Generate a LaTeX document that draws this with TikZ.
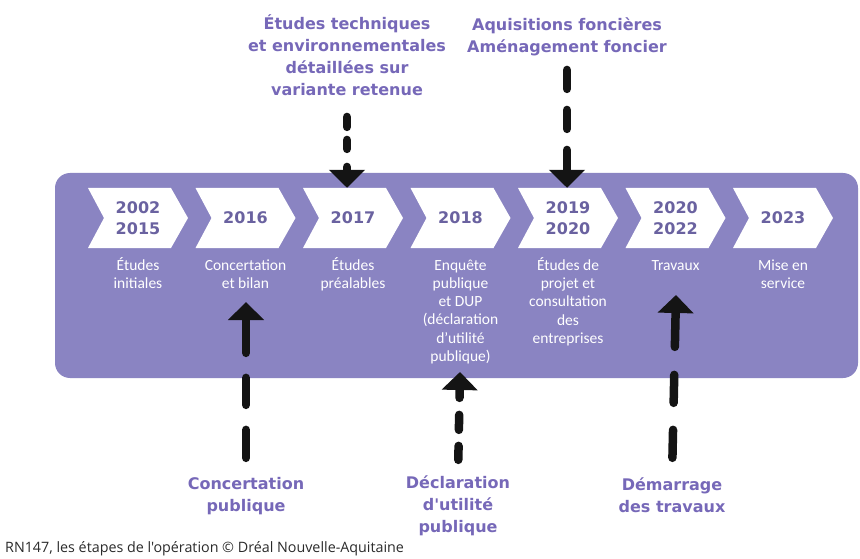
\documentclass[tikz,border=0pt]{standalone}
\usepackage{fontspec}
\setmainfont{Carlito}
\newfontfamily\boldsans{DejaVu Sans}
\newfontfamily\capfont{Open Sans}
\usetikzlibrary{arrows.meta}
\definecolor{bandfill}{HTML}{8A84C2}
\definecolor{yearc}{HTML}{6A62A0}
\definecolor{labc}{HTML}{7668B8}
\definecolor{ink}{HTML}{141414}
\definecolor{capc}{HTML}{2A2A2A}
% white chevron around a point: body 83 wide, tip 17, notch 16, height 60
\newcommand\chevronat[1]{%
  \fill[white] (#1) ++(-50,-30) -- ++(83,0) -- ++(17,30) -- ++(-17,30)
    -- ++(-83,0) -- ++(16,-30) -- cycle;}
\begin{document}
\begin{tikzpicture}[x=1pt,y=-1pt,
  yeartext/.style={font=\boldsans\bfseries\fontsize{16}{21}\selectfont,
    text=yearc, align=center, inner sep=0, minimum width=100pt, minimum height=60pt},
  desc/.style={font=\fontsize{15.5}{18.3}\selectfont, text=white,
    align=center, anchor=north, inner sep=0},
  milestone/.style={font=\boldsans\bfseries\fontsize{16}{22}\selectfont,
    text=labc, align=center, inner sep=0},
  flow/.style={draw=ink, line width=8.5pt, line cap=round,
    {Triangle[width=35pt,length=18pt]}-}
]
\useasboundingbox (0,0) rectangle (860,559);

% timeline band
\node[fill=bandfill, rounded corners=15pt, minimum width=803pt,
  minimum height=205pt, inner sep=0] (band) at (456.5,275.5) {};

% chevrons with years
\coordinate (p1) at (138,218);
\coordinate (p2) at (245.5,218);
\coordinate (p3) at (353,218);
\coordinate (p4) at (460.5,218);
\coordinate (p5) at (568,218);
\coordinate (p6) at (675.5,218);
\coordinate (p7) at (783,218);
\foreach \i in {1,...,7} {\chevronat{p\i}}
\node[yeartext] (y1) at (p1) {2002\\2015};
\node[yeartext] (y2) at (p2) {2016};
\node[yeartext] (y3) at (p3) {2017};
\node[yeartext] (y4) at (p4) {2018};
\node[yeartext] (y5) at (p5) {2019\\2020};
\node[yeartext] (y6) at (p6) {2020\\2022};
\node[yeartext] (y7) at (p7) {2023};

% step descriptions
\node[desc] (d1) at (138,257) {\strut Études\\initiales};
\node[desc] (d2) at (245.5,257) {\strut Concertation\\et bilan};
\node[desc] (d3) at (353,257) {\strut Études\\préalables};
\node[desc] (d4) at (460.5,257) {\strut Enquête\\publique\\et DUP\\(déclaration\\d'utilité\\publique)};
\node[desc] (d5) at (568,257) {\strut Études de\\projet et\\consultation\\des\\entreprises};
\node[desc] (d6) at (675.5,257) {\strut Travaux};
\node[desc] (d7) at (783,257) {\strut Mise en\\service};

% milestones above the band
\node[milestone] (mA) at (347,55.5) {Études techniques\\et environnementales\\détaillées sur\\variante retenue};
\node[milestone] (mB) at (567,37) {Aquisitions foncières\\Aménagement foncier};

% milestones below the band
\node[milestone] (mC) at (246,496) {Concertation\\publique};
\node[milestone] (mD) at (458,506) {Déclaration\\d'utilité\\publique};
\node[milestone] (mE) at (672,495) {Démarrage\\des travaux};

% arrow tips below the descriptions
\coordinate (tC) at (246,302);
\coordinate (tD) at (460,372);
\coordinate (tE) at (676,295);

% dashed arrows, drawn from the tip back to the milestone text
\draw[flow, dash pattern=on 4pt off 18pt on 9pt off 13pt on 10pt off 20pt, shorten >=18pt]
  (mA.south |- y3.north) -- (mA.south);
\draw[flow, dash pattern=on 21pt off 21pt on 19pt off 21pt on 19pt off 21pt, shorten >=12pt]
  (mB.south |- y5.north) -- (mB.south);
\draw[flow, dash pattern=on 34pt off 25pt on 27pt off 25pt on 28pt off 25pt, shorten >=18pt]
  (tC) -- (mC.north);
\draw[flow, dash pattern=on 9pt off 17pt on 15pt off 16pt on 14pt off 16pt, shorten >=15pt]
  (tD) -- (mD.north);
\draw[flow, dash pattern=on 35pt off 28pt on 28pt off 27pt on 28pt off 27pt, shorten >=19pt]
  (tE) -- (mE.north);

% caption
\node[anchor=west, inner sep=0, font=\capfont\fontsize{14.3}{16}\selectfont, text=capc] (cap)
  at (5,549) {RN147, les étapes de l'opération © Dréal Nouvelle-Aquitaine};
\end{tikzpicture}
\end{document}
